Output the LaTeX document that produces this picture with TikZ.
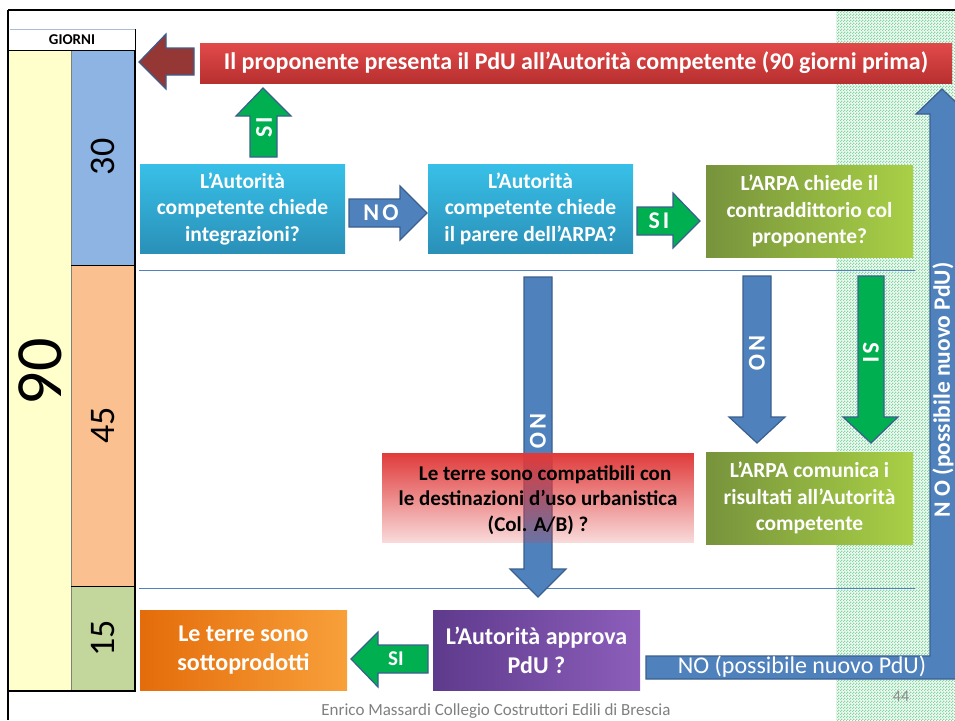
\documentclass[tikz,border=0pt]{standalone}
\usepackage{fontspec}
\setmainfont{Carlito}
\usetikzlibrary{patterns,fadings}
\pgfdeclarepatternformonly{finecheck}{\pgfpointorigin}{\pgfpoint{3pt}{3pt}}{\pgfpoint{3pt}{3pt}}{%
  \pgfpathrectangle{\pgfpointorigin}{\pgfpoint{1.5pt}{1.5pt}}%
  \pgfpathrectangle{\pgfpoint{1.5pt}{1.5pt}}{\pgfpoint{1.5pt}{1.5pt}}%
  \pgfusepath{fill}}
\definecolor{arrblue}{HTML}{4F81BD}
\definecolor{arrline}{HTML}{3A5F8E}
\definecolor{arrgreen}{HTML}{00B050}
\definecolor{arrred}{HTML}{953735}
\definecolor{colyellow}{HTML}{FFFFCC}
\definecolor{colblue}{HTML}{8EB4E3}
\definecolor{colorange}{HTML}{FAC08F}
\definecolor{colgreen}{HTML}{C3D69B}
\definecolor{hatchbg}{HTML}{F2FAF4}
\definecolor{hatchfg}{HTML}{86D6A4}
\definecolor{boxred}{HTML}{E03A3A}
\definecolor{cyantop}{HTML}{38C0E8}
\definecolor{cyanbot}{HTML}{2A90B8}
\definecolor{olivel}{HTML}{77933C}
\definecolor{oliver}{HTML}{A9D046}
\definecolor{purpl}{HTML}{5E3A8C}
\definecolor{purpr}{HTML}{8C5EBA}
\definecolor{orangel}{HTML}{E46C0A}
\definecolor{oranger}{HTML}{F8A03A}
\definecolor{footgray}{HTML}{7F7F7F}
\tikzfading[name=redfade, top color=transparent!0, middle color=transparent!15, bottom color=transparent!82]
\tikzset{
  blockarrow/.style={draw=arrline, line width=1.2pt, line join=miter},
  boxtext/.style={align=center, text=white, font=\bfseries\fontsize{21.5}{26.5}\selectfont},
  bigboxtext/.style={align=center, text=white, font=\bfseries\fontsize{24}{29}\selectfont},
  arrtext/.style={text=white, inner sep=0pt, font=\bfseries\fontsize{24}{24}\selectfont},
  coltext/.style={font=\fontsize{36}{38}\selectfont, rotate=90},
}
\begin{document}
\begin{tikzpicture}[x=1pt,y=-1pt]
\useasboundingbox (0,0) rectangle (955,720);
\begin{scope}
\clip (0,0) rectangle (955,720);
% hatched green strip
\fill[hatchbg] (836,11) rectangle (955,720);
\fill[pattern=finecheck, pattern color=hatchfg] (836,11) rectangle (955,720);

% frame
\draw[line width=2.5pt] (8,10) -- (955,10);
\draw[line width=2.5pt] (8,10) -- (8,720);

% day columns
\draw[draw=colblue!80!black!60, line width=0.6pt] (10,29) -- (135,29);
\node (giorni) at (72,40) {\bfseries\fontsize{15}{16}\selectfont GIORNI};
\fill[colyellow] (9,50) rectangle (71,691);
\fill[colblue] (71,50) rectangle (135,265);
\fill[colorange] (71,265) rectangle (135,586);
\fill[colgreen] (71,586) rectangle (135,691);
\draw[footgray, line width=0.8pt] (71,50) -- (71,691);
\draw[line width=1pt] (71,265) -- (135,265);
\draw[line width=1pt] (71,586) -- (135,586);
\draw[line width=0.8pt] (9,50) -- (135,50);
\draw[line width=0.8pt] (135,29) -- (135,50);
\draw[line width=2.5pt] (135,50) -- (135,692);
\draw[line width=2.5pt] (8,691) -- (136,691);
\node[font=\fontsize{66}{66}\selectfont, rotate=90] (n90) at (40,372) {90};
\node[coltext] (n30) at (103,157) {30};
\node[coltext] (n45) at (103,425) {45};
\node[coltext] (n15) at (103,638) {15};

% separator lines
\draw[arrblue, line width=0.8pt] (139,270) -- (915,270);
\draw[arrblue, line width=0.8pt] (139,588) -- (915,588);

% top red bar
\node[shade, top color=boxred!92!white, bottom color=boxred!82!black, minimum width=752pt, minimum height=40pt, inner sep=0pt] (title) at (576,63) {};
\node[text=white, font=\bfseries\fontsize{24}{26}\selectfont] (titletext) at (title.center) {Il proponente presenta il PdU all’Autorità competente (90 giorni prima)};

% dark red arrow to column
\filldraw[blockarrow, fill=arrred] (139,62) -- (166,34) -- (166,48) -- (194,48) -- (194,75) -- (166,75) -- (166,89) -- cycle;

% green up arrow SI
\filldraw[blockarrow, fill=arrgreen] (263,88) -- (291,116) -- (277,116) -- (277,157) -- (250,157) -- (250,116) -- (236,116) -- cycle;
\node[arrtext, rotate=90] (si1) at (264,127) {S\hspace{3pt}I};

% row 1 boxes
\node[shade, top color=cyantop, bottom color=cyanbot, minimum width=205pt, minimum height=89pt, inner sep=0pt] (b1) at (242.5,208.5) {};
\node[boxtext] (b1t) at (b1.center) {L’Autorità\\competente chiede\\integrazioni?};
\node[shade, top color=cyantop, bottom color=cyanbot, minimum width=205pt, minimum height=89pt, inner sep=0pt] (b2) at (530.5,208.5) {};
\node[boxtext] (b2t) at (b2.center) {L’Autorità\\competente chiede\\il parere dell’ARPA?};
\node[shade, left color=olivel, right color=oliver, minimum width=207pt, minimum height=92pt, inner sep=0pt] (b3) at (809.5,211) {};
\node[boxtext] (b3t) at (b3.center) {L’ARPA chiede il\\contraddittorio col\\proponente?};

% NO arrow b1 -> b2
\filldraw[blockarrow, fill=arrblue] (349,199) -- (400,199) -- (400,186) -- (427,213) -- (400,240) -- (400,227) -- (349,227) -- cycle;
\node[arrtext] (no1) at (381,213) {N\hspace{3pt}O};
% SI arrow b2 -> b3
\filldraw[blockarrow, fill=arrgreen] (637,207) -- (673,207) -- (673,193) -- (700,221) -- (673,248) -- (673,235) -- (637,235) -- cycle;
\node[arrtext] (si2) at (659,221) {S\hspace{3pt}I};

% down arrow from b2 (NO)
\filldraw[blockarrow, fill=arrblue] (524,277) -- (552,277) -- (552,569) -- (566,569) -- (538,597) -- (510,569) -- (524,569) -- cycle;
\node[arrtext, rotate=-90] (no2) at (538,431) {N\hspace{3pt}O};

% red box (compatibility) over the arrow
\fill[boxred, path fading=redfade] (382,453) rectangle (694,543);
\node[align=center, text=black, font=\bfseries\fontsize{21}{25.5}\selectfont, minimum width=312pt, minimum height=90pt] (rb) at (538,500) {\ \ \ Le terre sono compatibili con\\le destinazioni d’uso urbanistica\\(Col. A/B) ?};

% down arrow from b3 (NO)
\filldraw[blockarrow, fill=arrblue] (743,276) -- (771,276) -- (771,417) -- (785,417) -- (757,443) -- (729,417) -- (743,417) -- cycle;
\node[arrtext, rotate=-90] (no3) at (757,353) {N\hspace{3pt}O};
% down arrow from b3 (SI)
\filldraw[blockarrow, fill=arrgreen] (858,276) -- (884,276) -- (884,417) -- (898,417) -- (871,443) -- (843,417) -- (858,417) -- cycle;
\node[arrtext, rotate=-90] (si3) at (871,353) {S\hspace{3pt}I};

% box 4
\node[shade, left color=olivel, right color=oliver, minimum width=207pt, minimum height=92pt, inner sep=0pt] (b4) at (809.5,498) {};
\node[boxtext] (b4t) at (b4.center) {L’ARPA comunica i\\risultati all’Autorità\\competente};

% bottom row
\node[shade, left color=purpl, right color=purpr, minimum width=207pt, minimum height=80pt, inner sep=0pt] (b5) at (536.5,650) {};
\node[bigboxtext] (b5t) at (b5.center) {L’Autorità approva\\PdU ?};
\node[shade, left color=orangel, right color=oranger, minimum width=207pt, minimum height=80pt, inner sep=0pt] (b6) at (243.5,650) {};
\node[bigboxtext] (b6t) at (b6.center) {Le terre sono\\sottoprodotti};
% SI arrow b5 -> b6
\filldraw[blockarrow, fill=arrgreen] (428,645) -- (378,645) -- (378,632) -- (351,659) -- (378,687) -- (378,673) -- (428,673) -- cycle;
\node[arrtext, font=\bfseries\fontsize{21}{22}\selectfont] (si4) at (396,659) {SI};

% big L-shaped return arrow
\filldraw[blockarrow, fill=arrblue] (646,656) -- (930,656) -- (930,114) -- (916,114) -- (942,89) -- (968,114) -- (968,679) -- (646,679) -- cycle;
\node[text=white, font=\fontsize{24}{26}\selectfont] (nob) at (802,667) {NO (possibile nuovo PdU)};
\node[text=white, font=\bfseries\fontsize{23.5}{24}\selectfont, rotate=90] (nov) at (943,390) {N O (possibile nuovo PdU)};

% footer
\node[text=footgray, font=\fontsize{17}{18}\selectfont] (foot) at (496,711) {Enrico Massardi Collegio Costruttori Edili di Brescia};
\node[text=black!45, font=\fontsize{16}{16}\selectfont] (page) at (901,696) {44};
\end{scope}
\end{tikzpicture}
\end{document}
